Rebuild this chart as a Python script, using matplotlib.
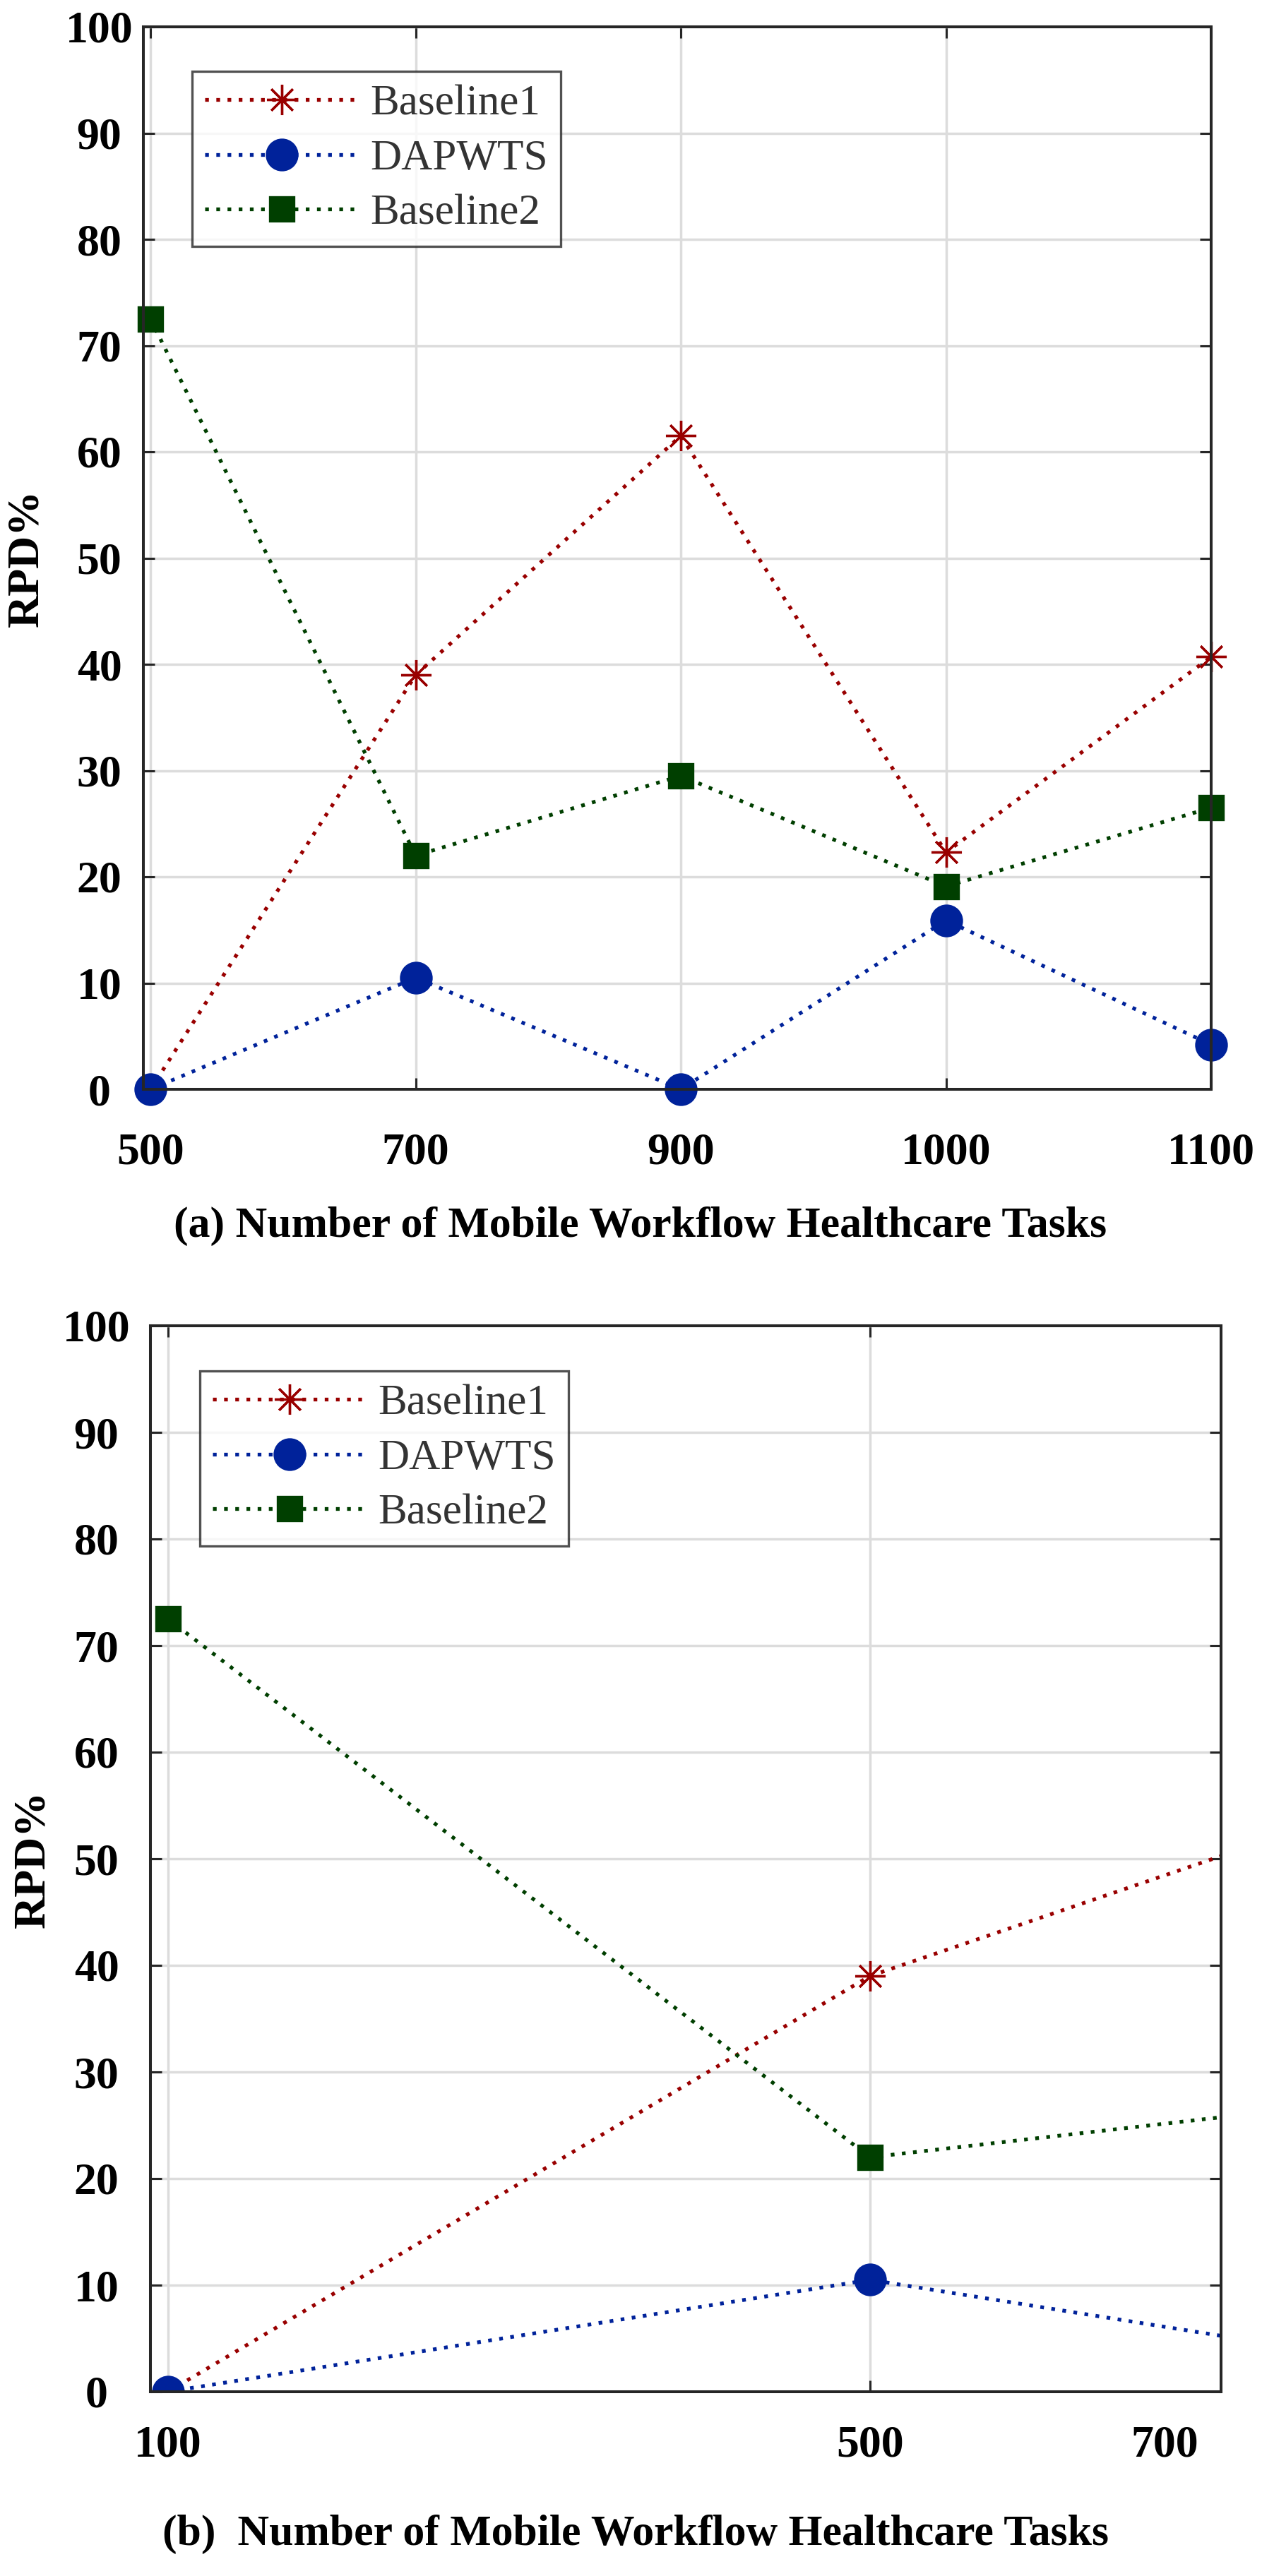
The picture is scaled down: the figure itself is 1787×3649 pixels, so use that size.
import matplotlib
matplotlib.use('Agg')
import matplotlib.pyplot as plt

# ---- data ----
tasks_a = ['500', '700', '900', '1000', '1100']
baseline1 = [0, 39, 61.5, 22.3, 40.7]
dapwts = [0, 10.5, 0, 15.9, 4.2]
baseline2 = [72.5, 22, 29.5, 19.1, 26.5]

# panel (b) shows the first points again, axis cut half way to the third one
tasks_b = ['100', '500', '700']
n_b = 3

yticks = list(range(0, 101, 10))

series = [('Baseline1', baseline1, '#990000', (8, 2, 0), 31),
          ('DAPWTS', dapwts, '#00229a', 'o', 31),
          ('Baseline2', baseline2, '#003f00', 's', 25)]

plt.rcParams['font.family'] = ['Liberation Serif', 'DejaVu Serif']

W, H = 1787, 3649
fig = plt.figure(figsize=(W / 100, H / 100), dpi=100)

def px_axes(l, t, r, b):
    return fig.add_axes([l / W, 1 - b / H, (r - l) / W, (b - t) / H])

ax_a = px_axes(203, 38, 1715, 1543)
ax_b = px_axes(213, 1878, 1729, 3388)

dark = '#262626'
ls_dot = (0, (1, 2.0))

def style_axes(ax, ypad):
    for s in ax.spines.values():
        s.set_linewidth(2.9)
        s.set_color(dark)
    ax.set_yticks(yticks)
    ax.grid(True, color='#dcdcdc', linewidth=2.5)
    ax.set_axisbelow(True)
    ax.tick_params(direction='in', length=11.5, width=2.2, color=dark,
                   top=True, right=True, labelsize=46)
    ax.tick_params(axis='y', pad=ypad)
    for lab in ax.get_yticklabels():
        lab.set_fontweight('bold')
        lab.set_horizontalalignment('center')
    for lab in ax.get_xticklabels():
        lab.set_fontweight('bold')

def draw(ax, n):
    for name, vals, col, mk, ms in series:
        ax.plot(range(n), vals[:n], color=col, linestyle=ls_dot, linewidth=3.8,
                marker=mk, markersize=ms, markeredgewidth=2.4,
                markerfacecolor=col, markeredgecolor=col, label=name,
                clip_on=False if n == len(vals) else True)
    leg = ax.legend(loc='upper left', fontsize=44, frameon=True, fancybox=False,
                    borderpad=0.3, labelspacing=0.36, handlelength=3.57,
                    handletextpad=0.26, borderaxespad=0, numpoints=1)
    leg.get_frame().set_edgecolor(dark)
    leg.get_frame().set_linewidth(2.4)
    for t in leg.get_texts():
        t.set_color('#333333')
    return leg

# ---- panel (a) ----
leg = draw(ax_a, len(tasks_a))
leg.set_bbox_to_anchor((69 / 1512, 1 - 63 / 1505), transform=ax_a.transAxes)
ax_a.set_xlim(-0.027, len(tasks_a) - 1)
ax_a.set_ylim(0.3, 100)
ax_a.set_xticks(range(len(tasks_a)))
ax_a.set_xticklabels(tasks_a)
ax_a.tick_params(axis='x', pad=44)
style_axes(ax_a, 45)
ax_a.set_ylabel('RPD%', fontsize=46, fontweight='bold')
ax_a.yaxis.set_label_coords(-0.09, 0.5)
ax_a.set_xlabel('(a) Number of Mobile Workflow Healthcare Tasks',
                fontsize=44.5, fontweight='bold', va='center')
ax_a.xaxis.set_label_coords(0.465, -0.129)

# ---- panel (b) ----
leg = draw(ax_b, n_b)
leg.set_bbox_to_anchor((70 / 1516, 1 - 64 / 1510), transform=ax_b.transAxes)
ax_b.set_xlim(-0.025, 1.5)
ax_b.set_ylim(0.4, 100)
ax_b.set_xticks([0, 1, 1.42])
ax_b.set_xticklabels(tasks_b)
ax_b.tick_params(axis='x', pad=34)
style_axes(ax_b, 55)
last = ax_b.xaxis.get_major_ticks()[2]
for part in (last.tick1line, last.tick2line, last.gridline):
    part.set_visible(False)
ax_b.set_ylabel('RPD%', fontsize=46, fontweight='bold')
ax_b.yaxis.set_label_coords(-0.09, 0.5)
ax_b.set_xlabel('(b)  Number of Mobile Workflow Healthcare Tasks',
                fontsize=44.5, fontweight='bold', va='center')
ax_b.xaxis.set_label_coords((900 - 213) / 1516, -(3590 - 3388) / 1510)

fig.savefig('out.png', dpi=100)
